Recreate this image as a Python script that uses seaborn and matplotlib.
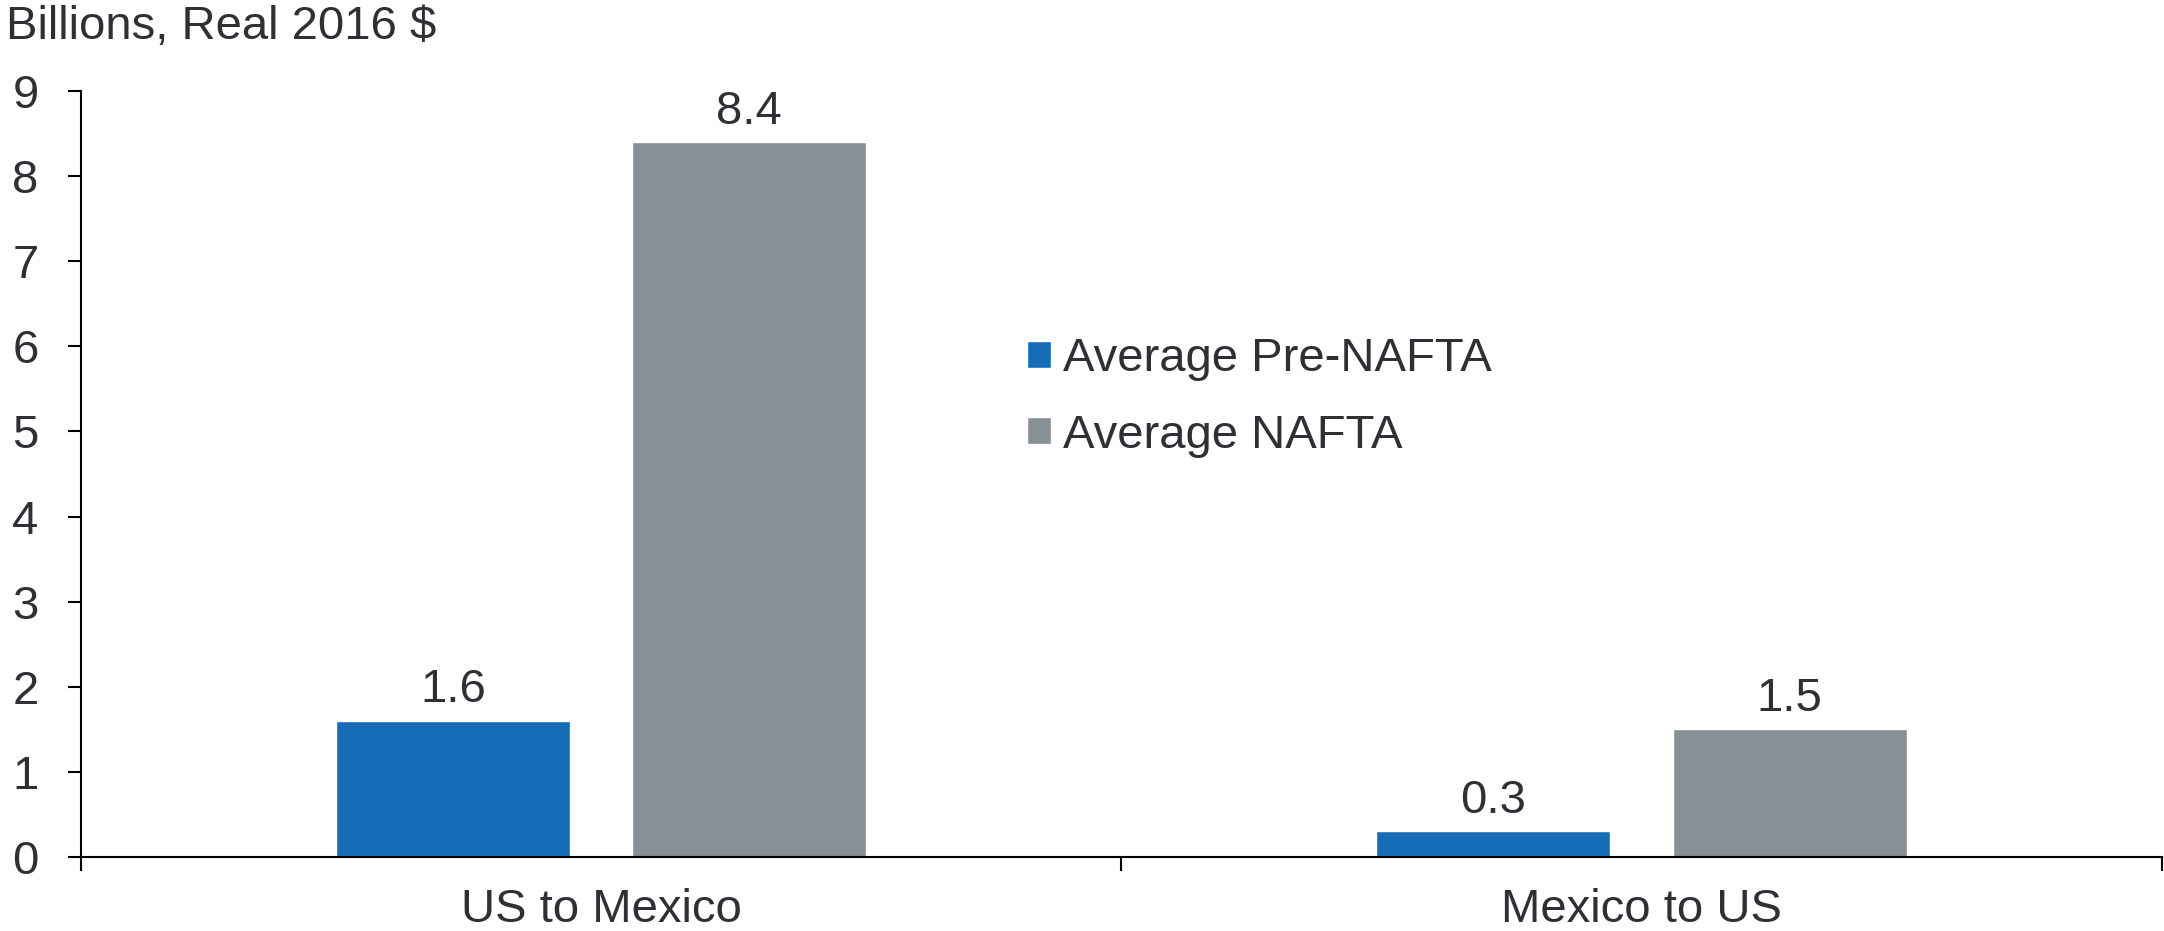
import matplotlib
matplotlib.use("Agg")
import matplotlib.pyplot as plt
import seaborn as sns
import pandas as pd
from matplotlib.ticker import FixedLocator

# Trade values, billions of real 2016 dollars
flows = ["US to Mexico", "Mexico to US"]
periods = ["Average Pre-NAFTA", "Average NAFTA"]
pre_nafta = [1.6, 0.3]
nafta = [8.4, 1.5]
y_ticks = [0, 1, 2, 3, 4, 5, 6, 7, 8, 9]

df = pd.DataFrame({
    "flow": flows * 2,
    "period": [periods[0]] * len(flows) + [periods[1]] * len(flows),
    "value": pre_nafta + nafta,
})

BLUE = "#176cb7"
GRAY = "#879095"
TEXT = "#2d3135"
FS = 34

sns.set_theme(style="white")
plt.rcParams["font.family"] = ["Liberation Sans", "DejaVu Sans"]

fig = plt.figure(figsize=(21.64, 9.31), dpi=100)
ax = fig.add_axes([0.0374, 0.0795, 0.9615, 0.8228])

sns.barplot(data=df, x="flow", y="value", hue="period", order=flows,
            hue_order=periods, palette=[BLUE, GRAY], width=0.57, gap=0.21,
            saturation=1, ax=ax, legend=True)

# Value labels above each bar
for container in ax.containers:
    ax.bar_label(container, fmt="%.1f", padding=6, fontsize=FS, color=TEXT)

ax.set_xlim(-0.5, 1.5)
ax.set_ylim(0, 9)
ax.set_yticks(y_ticks)
ax.set_xlabel("")
ax.set_ylabel("")

for side in ("top", "right"):
    ax.spines[side].set_visible(False)
for side in ("left", "bottom"):
    ax.spines[side].set_color("black")
    ax.spines[side].set_linewidth(1.5)

ax.tick_params(axis="y", which="major", left=True, direction="out", length=9.5,
               width=1.5, color="black", pad=21, labelsize=FS, labelcolor=TEXT)
ax.tick_params(axis="x", which="major", bottom=True, length=0, pad=22,
               labelsize=FS, labelcolor=TEXT)
# category separators on the x axis
ax.xaxis.set_minor_locator(FixedLocator([-0.5, 0.5, 1.5]))
ax.tick_params(axis="x", which="minor", bottom=True, direction="out",
               length=10, width=1.5, color="black")

leg = ax.legend(loc="center left", bbox_to_anchor=(0.4746, 0.573),
                bbox_transform=fig.transFigure, frameon=False, fontsize=FS,
                handlelength=0.51, handleheight=0.51, handletextpad=0.26,
                labelspacing=0.68, borderpad=0, borderaxespad=0)
for t in leg.get_texts():
    t.set_color(TEXT)

fig.text(0.003, 1 - 39 / 931, "Billions, Real 2016 $", fontsize=FS,
         color=TEXT, ha="left", va="baseline")

fig.savefig("out.png", dpi=100)
